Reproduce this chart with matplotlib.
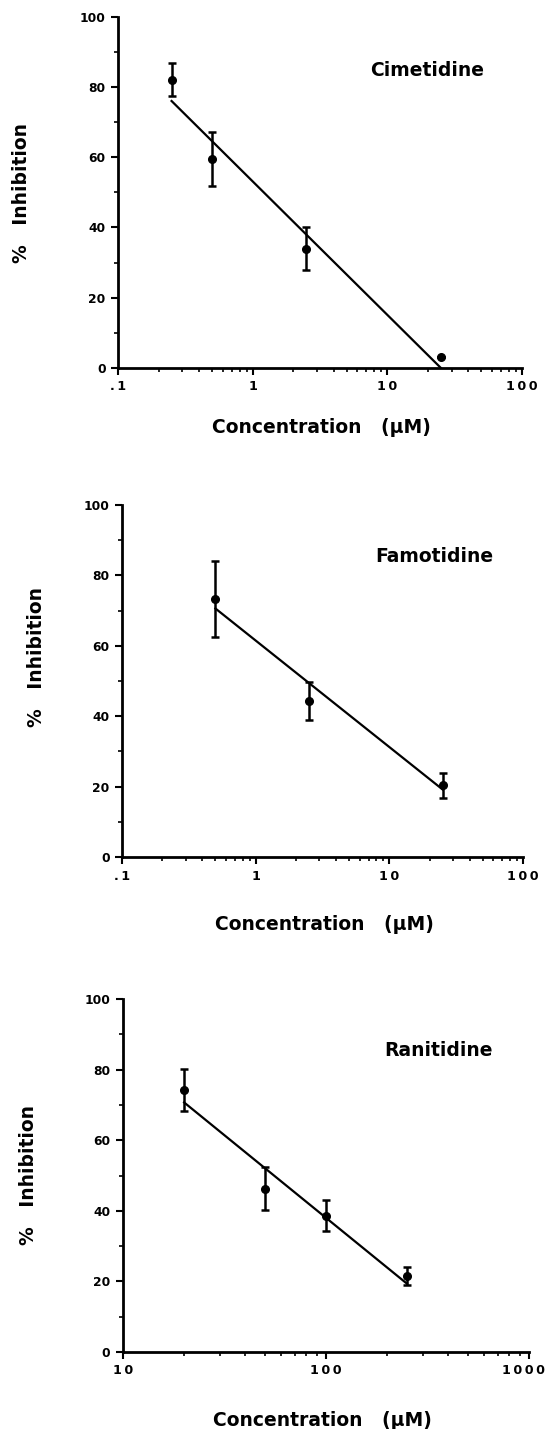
import matplotlib
matplotlib.use("Agg")
import matplotlib.pyplot as plt
import matplotlib.transforms as mtransforms
from matplotlib.ticker import FixedLocator, FixedFormatter, LogLocator, NullFormatter

plt.rcParams['font.family'] = ['DejaVu Sans']
plt.rcParams['font.weight'] = 'bold'

# data (concentration in uM, % inhibition, SEM)
cim_x = [0.25, 0.5, 2.5, 25]
cim_y = [82, 59.5, 34, 3]
cim_err = [4.7, 7.6, 6, 0]
cim_fit_x = [0.25, 25]
cim_fit_y = [76, 0]

fam_x = [0.5, 2.5, 25]
fam_y = [73.3, 44.3, 20.4]
fam_err = [10.8, 5.5, 3.6]
fam_fit_x = [0.5, 25]
fam_fit_y = [70.6, 19.2]

ran_x = [20, 50, 100, 250]
ran_y = [74.3, 46.3, 38.6, 21.5]
ran_err = [6, 6, 4.4, 2.6]
ran_fit_x = [20, 250]
ran_fit_y = [70.7, 19.4]

names = ['Cimetidine', 'Famotidine', 'Ranitidine']
y_ticks = [0, 20, 40, 60, 80, 100]
sp = '\u2009'  # thin space, the old typesetting spreads the digits
x_ticks_low = [0.1, 1, 10, 100]
x_labels_low = ['.' + sp + '1', '1', sp.join('10'), sp.join('100')]
x_ticks_high = [10, 100, 1000]
x_labels_high = [sp.join('10'), sp.join('100'), sp.join('1000')]

W, H = 550, 1429
fig = plt.figure(figsize=(W / 100, H / 100), dpi=100)

def fx(x):
    return x / W

def fy(y):
    return 1 - y / H

# axes boxes in pixels: left, right, top(100), bottom(0)
boxes = [(118, 522, 16.7, 368), (122, 523, 505, 857), (123, 529, 999, 1352)]
panels = [
    (cim_x, cim_y, cim_err, cim_fit_x, cim_fit_y, (0.1, 100), x_ticks_low, x_labels_low),
    (fam_x, fam_y, fam_err, fam_fit_x, fam_fit_y, (0.1, 100), x_ticks_low, x_labels_low),
    (ran_x, ran_y, ran_err, ran_fit_x, ran_fit_y, (10, 1000), x_ticks_high, x_labels_high),
]
title_pos = [(427, 70), (434, 556), (439, 1051)]
ylab_pos = [(22, 193), (37, 657), (28, 1175)]
xlab_pos = [(321, 428), (324, 925), (322, 1420)]

for i, (px, py, perr, lx, ly, xlim, xt, xl) in enumerate(panels):
    l, r, t, b = boxes[i]
    ax = fig.add_axes([fx(l), fy(b), (r - l) / W, (b - t) / H])
    ax.errorbar(px, py, yerr=perr, fmt='o', color='black', ms=5.5,
                elinewidth=1.8, capsize=3, capthick=1.8, zorder=3)
    ax.plot(lx, ly, color='black', lw=1.6)
    ax.set_xscale('log')
    ax.set_xlim(*xlim)
    ax.set_ylim(0, 100)
    ax.xaxis.set_major_locator(FixedLocator(xt))
    ax.xaxis.set_major_formatter(FixedFormatter(xl))
    ax.xaxis.set_minor_locator(LogLocator(base=10, subs=range(2, 10)))
    ax.xaxis.set_minor_formatter(NullFormatter())
    ax.set_yticks(y_ticks)
    ax.set_yticks([10, 30, 50, 70, 90], minor=True)
    ax.tick_params(axis='both', which='major', direction='out', length=5,
                   width=1.5, pad=4)
    ax.tick_params(axis='both', which='minor', direction='out', length=3,
                   width=1.2)
    ax.tick_params(axis='y', labelsize=8.8)
    ax.tick_params(axis='x', labelsize=9.2)
    for lab in ax.get_xticklabels() + ax.get_yticklabels():
        lab.set_fontweight('bold')
    ax.spines['top'].set_visible(False)
    ax.spines['right'].set_visible(False)
    ax.spines['left'].set_linewidth(2)
    ax.spines['bottom'].set_linewidth(2)
    ax.patch.set_visible(False)

    # last label of the bottom panel sits against the page edge
    if i == 2:
        last = ax.get_xticklabels()[-1]
        last.set_transform(last.get_transform() +
                           mtransforms.ScaledTranslation(-6 / 100, 0, fig.dpi_scale_trans))

    tx, ty = title_pos[i]
    fig.text(fx(tx), fy(ty), names[i], ha='center', va='center',
             fontsize=13.5, fontweight='bold')
    yx, yy = ylab_pos[i]
    fig.text(fx(yx), fy(yy), '%   Inhibition', ha='center', va='center',
             rotation=90, fontsize=13.5, fontweight='bold')
    cx, cy = xlab_pos[i]
    fig.text(fx(cx), fy(cy), 'Concentration   (\u00b5M)', ha='center',
             va='center', fontsize=13.5, fontweight='bold')

fig.savefig('out.png', dpi=100)
